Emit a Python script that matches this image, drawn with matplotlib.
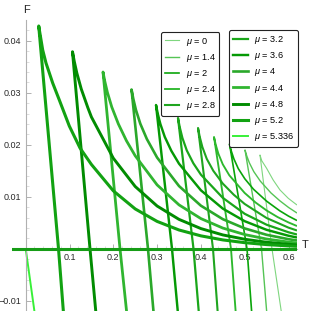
import matplotlib
matplotlib.use("Agg")
import matplotlib.pyplot as plt
from matplotlib.lines import Line2D

plt.rcParams['font.family'] = ['Liberation Sans', 'DejaVu Sans']
plt.rcParams['mathtext.fontset'] = 'custom'
plt.rcParams['mathtext.rm'] = 'Liberation Sans'
plt.rcParams['mathtext.it'] = 'Liberation Sans:italic'

# each curve: bottom of steep branch -> F=0 crossing -> cusp -> upper branch
T_520 = [0.0864, 0.0749, 0.0297, 0.0388, 0.0463, 0.0616, 0.0767, 0.0995, 0.124, 0.15, 0.2, 0.25, 0.3, 0.35, 0.4, 0.45, 0.5, 0.55, 0.6, 0.6194]
F_520 = [-0.0125, 0.0, 0.04285, 0.03823, 0.03573, 0.03188, 0.02862, 0.02362, 0.01938, 0.01622, 0.01115, 0.00767, 0.00527, 0.00362, 0.00249, 0.00171, 0.00118, 0.00081, 0.00056, 0.00048]

T_480 = [0.1605, 0.1468, 0.1068, 0.1108, 0.1168, 0.1268, 0.1418, 0.15, 0.2, 0.25, 0.3, 0.35, 0.4, 0.45, 0.5, 0.55, 0.6, 0.6194]
F_480 = [-0.0125, 0.0, 0.0379, 0.03607, 0.03378, 0.03074, 0.02715, 0.02535, 0.01742, 0.01198, 0.00823, 0.00566, 0.00389, 0.00267, 0.00184, 0.00126, 0.00087, 0.00075]

T_440 = [0.2309, 0.2153, 0.1765, 0.1805, 0.1865, 0.1965, 0.2115, 0.23, 0.25, 0.3, 0.35, 0.4, 0.45, 0.5, 0.55, 0.6, 0.6194]
F_440 = [-0.0125, 0.0, 0.0340, 0.03224, 0.03008, 0.02726, 0.02402, 0.02078, 0.01789, 0.01229, 0.00845, 0.00581, 0.00399, 0.00274, 0.00188, 0.0013, 0.00112]

T_400 = [0.2922, 0.2792, 0.2416, 0.2456, 0.2516, 0.2616, 0.2766, 0.3, 0.35, 0.4, 0.45, 0.5, 0.55, 0.6, 0.6194]
F_400 = [-0.0125, 0.0, 0.03063, 0.02886, 0.02672, 0.02406, 0.02111, 0.01755, 0.01207, 0.00829, 0.0057, 0.00392, 0.00269, 0.00185, 0.0016]

T_360 = [0.3477, 0.334, 0.2975, 0.3015, 0.3075, 0.3175, 0.3325, 0.35, 0.4, 0.45, 0.5, 0.55, 0.6, 0.6194]
F_360 = [-0.0125, 0.0, 0.02765, 0.02597, 0.02398, 0.02152, 0.01884, 0.01637, 0.01125, 0.00773, 0.00531, 0.00365, 0.00251, 0.00217]

T_320 = [0.3955, 0.3831, 0.3477, 0.3517, 0.3577, 0.3677, 0.3827, 0.4, 0.45, 0.5, 0.55, 0.6, 0.6194]
F_320 = [-0.0125, 0.0, 0.02515, 0.02338, 0.02133, 0.01893, 0.01645, 0.01426, 0.0098, 0.00673, 0.00463, 0.00318, 0.00275]

T_280 = [0.4386, 0.4276, 0.3934, 0.3974, 0.4034, 0.4134, 0.4284, 0.45, 0.475, 0.5, 0.55, 0.6, 0.6194]
F_280 = [-0.0125, 0.0, 0.02323, 0.02152, 0.01956, 0.01729, 0.01499, 0.01254, 0.0104, 0.00862, 0.00592, 0.00407, 0.00352]

T_240 = [0.4797, 0.4687, 0.4299, 0.4339, 0.4399, 0.4499, 0.4649, 0.5, 0.525, 0.55, 0.575, 0.6, 0.6194]
F_240 = [-0.0125, 0.0, 0.0215, 0.02001, 0.01829, 0.01625, 0.01413, 0.01073, 0.00889, 0.00737, 0.00611, 0.00507, 0.00438]

T_200 = [0.5162, 0.5053, 0.4653, 0.4693, 0.4753, 0.4853, 0.5003, 0.52, 0.55, 0.58, 0.6, 0.6194]
F_200 = [-0.0125, 0.0, 0.02015, 0.01883, 0.01729, 0.01543, 0.01346, 0.01146, 0.00916, 0.00731, 0.00629, 0.00544]

T_140 = [0.5506, 0.5384, 0.5007, 0.5047, 0.5107, 0.5207, 0.5357, 0.56, 0.58, 0.6, 0.6194]
F_140 = [-0.0125, 0.0, 0.019, 0.01787, 0.01652, 0.01485, 0.01301, 0.01074, 0.00925, 0.00796, 0.00688]

T_000 = [0.5843, 0.5623, 0.5349, 0.5389, 0.550, 0.565, 0.5806, 0.5995, 0.6194]
F_000 = [-0.0125, 0.0, 0.01804, 0.01695, 0.01548, 0.01323, 0.01131, 0.00971, 0.00842]

T_5336 = [0.0, 0.0174, 0.0207]
F_5336 = [0.0, -0.0105, -0.0125]

# F = 0 line
T_zero = [-0.0313, 0.6194]
F_zero = [0.0, 0.0]

mu_labels = ["0", "1.4", "2", "2.4", "2.8", "3.2", "3.6", "4", "4.4", "4.8", "5.2", "5.336"]
curves_T = [T_000, T_140, T_200, T_240, T_280, T_320, T_360, T_400, T_440, T_480, T_520, T_5336]
curves_F = [F_000, F_140, F_200, F_240, F_280, F_320, F_360, F_400, F_440, F_480, F_520, F_5336]
colors = ["#7fd67f", "#55c455", "#0aa50a", "#2db82d", "#1fa51f", "#1aa61a",
          "#059905", "#2aa82a", "#30b530", "#018c01", "#12a212", "#38f038"]
widths = [0.8, 1.0, 1.2, 1.35, 1.5, 1.6, 1.75, 1.9, 2.0, 2.1, 2.2, 1.4]

fig = plt.figure(figsize=(3.11, 3.11), dpi=100)
ax = fig.add_axes([12/311, 0.0, 285/311, 291/311])

for t, f, c, w in zip(curves_T, curves_F, colors, widths):
    ax.plot(t, f, color=c, lw=w, solid_capstyle='butt')

ax.plot(T_zero, F_zero, color="#169c16", lw=2.2, zorder=3)

ax.set_xlim(-0.0313, 0.6194)
ax.set_ylim(-0.01196, 0.044)

for s in ['top', 'right']:
    ax.spines[s].set_visible(False)
ax.spines['left'].set_position(('data', 0))
ax.spines['bottom'].set_position(('data', 0))
for s in ['left', 'bottom']:
    ax.spines[s].set_color('#b0b0b0')
    ax.spines[s].set_linewidth(0.8)

ax.set_xticks([0.1, 0.2, 0.3, 0.4, 0.5, 0.6])
ax.set_xticklabels(["0.1", "0.2", "0.3", "0.4", "0.5", "0.6"])
ax.set_xticks([i*0.02 for i in range(1, 31) if i % 5 != 0], minor=True)
ax.set_yticks([-0.01, 0.01, 0.02, 0.03, 0.04])
ax.set_yticklabels(["\u22120.01", "0.01", "0.02", "0.03", "0.04"])
ax.set_yticks([i*0.002 for i in range(-5, 22) if i % 5 != 0], minor=True)
ax.tick_params(which='both', direction='in', colors='#b0b0b0', labelcolor='#2a2a2a', labelsize=6.5)
ax.tick_params(which='major', length=3.5, width=0.7)
ax.tick_params(which='minor', length=2, width=0.5, colors='#d0d0d0')
ax.tick_params(axis='x', pad=3)
ax.tick_params(axis='y', pad=3)

fig.text(26/311, 1 - 10/311, "F", ha='center', va='center', fontsize=8, color='#222222')
fig.text(305/311, 1 - 245/311, "T", ha='center', va='center', fontsize=8, color='#222222')

handles = [Line2D([], [], color=c, lw=w) for c, w in zip(colors, widths)]
labels = [r"$\mu$ = " + m for m in mu_labels]

leg_opts = dict(fontsize=6.6, handlelength=1.6, handletextpad=0.7, labelspacing=0.46,
                borderpad=0.42, borderaxespad=0, fancybox=True, framealpha=1,
                edgecolor='#222222', bbox_transform=fig.transFigure, loc='upper left')
leg1 = ax.legend(handles[:5], labels[:5], bbox_to_anchor=(160.7/311, 1 - 31.7/311), **leg_opts)
leg1.get_frame().set_linewidth(0.8)
ax.add_artist(leg1)
leg2 = ax.legend(handles[5:], labels[5:], bbox_to_anchor=(229.3/311, 1 - 30/311), **leg_opts)
leg2.get_frame().set_linewidth(0.8)

fig.savefig("out.png", dpi=100)
